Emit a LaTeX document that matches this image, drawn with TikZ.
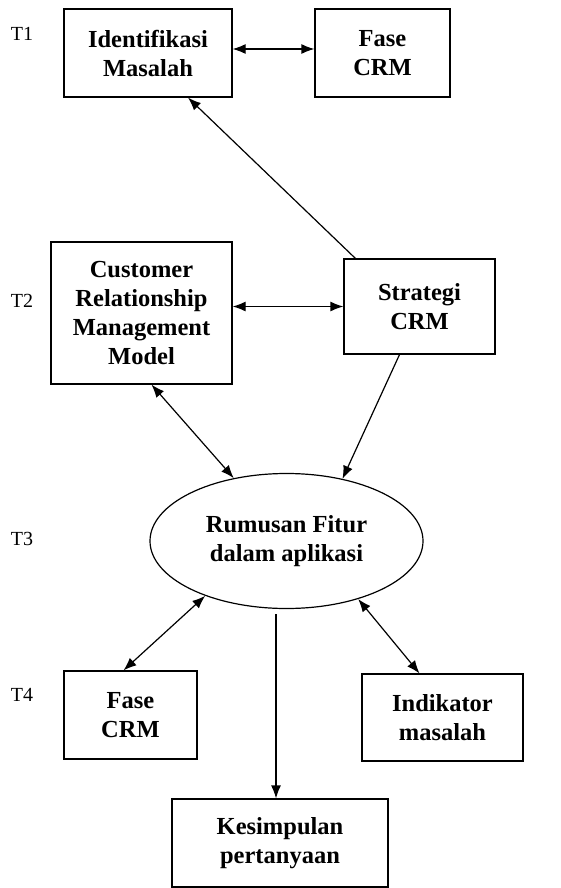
\documentclass[tikz,border=0pt]{standalone}
\usepackage{fontspec}
\setmainfont{Liberation Serif}
\usetikzlibrary{arrows.meta,shapes.geometric}

\begin{document}
\begin{tikzpicture}[x=1pt,y=-1pt,
     >={Latex[length=13pt,width=10pt]},
     block/.style = {draw, rectangle, line width=1.2pt, align=center, inner sep=0pt,
      font=\fontsize{24.5}{29}\selectfont\bfseries},
     stage/.style = {ellipse, draw, line width=1.2pt, align=center, inner sep=0pt,
      font=\fontsize{24.5}{29}\selectfont\bfseries},
     level/.style = {font=\fontsize{20}{22}\selectfont},
     link/.style = {line width=1.2pt}
    ]
    \useasboundingbox (0,0) rectangle (560,888);

    \node [level] (t1) at (22,34) {T1};
    \node [level] (t2) at (22,301) {T2};
    \node [level] (t3) at (22,539) {T3};
    \node [level] (t4) at (22,695) {T4};

    \node [block, minimum width=168, minimum height=88] (idm) at (148,53) {Identifikasi\\Masalah};
    \node [block, minimum width=135, minimum height=88] (fase1) at (382.5,53) {Fase\\CRM};
    \node [block, minimum width=181, minimum height=142] (crmm) at (141.5,313) {Customer\\Relationship\\Management\\Model};
    \node [block, minimum width=151, minimum height=95] (strat) at (419.5,306.5) {Strategi\\CRM};
    \node [stage, minimum width=273, minimum height=135] (rumus) at (286.5,541) {Rumusan Fitur\\dalam aplikasi};
    \node [block, minimum width=133, minimum height=88] (fase2) at (130.5,715) {Fase\\CRM};
    \node [block, minimum width=161, minimum height=87] (indik) at (442.5,717.5) {Indikator\\masalah};
    \node [block, minimum width=216, minimum height=88] (kesim) at (280,843) {Kesimpulan\\pertanyaan};

    \draw[link,<->] ([yshift=4pt]idm.east) -- ([yshift=4pt]fase1.west);
    \draw[link,->] ([xshift=12pt]strat.north west) -- ([xshift=40pt]idm.south);
    \draw[link,<->] (crmm.east |- strat.west) -- (strat.west);
    \draw[link,<->] ([xshift=10pt]crmm.south) -- (rumus.130);
    \draw[link,->] ([xshift=-20pt]strat.south) -- (rumus.48);
    \draw[link,<->] (rumus.214) -- ([xshift=-7pt]fase2.north);
    \draw[link,<->] (rumus.321) -- ([xshift=-23pt]indik.north);
    \draw[link,->] ([xshift=-10.5pt,yshift=-5pt]rumus.south) -- ([xshift=-4pt]kesim.north);
\end{tikzpicture}
\end{document}
